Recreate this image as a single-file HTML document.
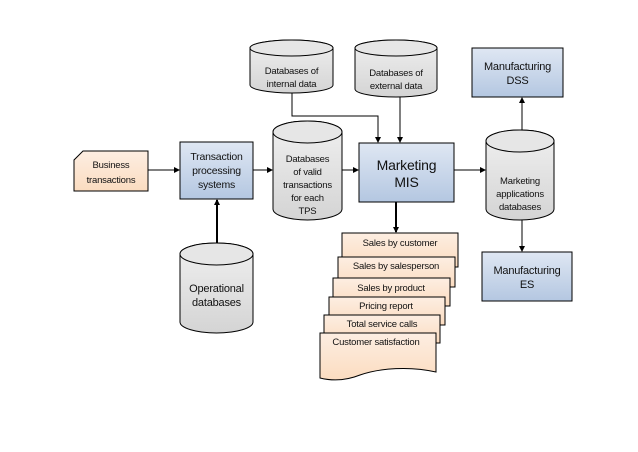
<!DOCTYPE html>
<html><head><meta charset="utf-8"><style>
html,body{margin:0;padding:0;background:#fff;}
svg{display:block;font-family:"Liberation Sans",sans-serif;}
text{font-size:9.5px;fill:#111;text-anchor:middle;letter-spacing:-0.2px}
</style></head><body>
<svg width="638" height="452" viewBox="0 0 638 452" xmlns="http://www.w3.org/2000/svg">
<defs>
<linearGradient id="bl" x1="0" y1="0" x2="0" y2="1"><stop offset="0" stop-color="#dfe7f3"/><stop offset="1" stop-color="#b4c7e1"/></linearGradient>
<linearGradient id="gr" x1="0" y1="0" x2="0" y2="1"><stop offset="0" stop-color="#f0f0f0"/><stop offset="1" stop-color="#d4d4d4"/></linearGradient>
<linearGradient id="pe" x1="0" y1="0" x2="0" y2="1"><stop offset="0" stop-color="#fdeee2"/><stop offset="1" stop-color="#fbdcc0"/></linearGradient>
<marker id="ar" markerWidth="6" markerHeight="6" refX="5" refY="3" orient="auto" markerUnits="userSpaceOnUse"><path d="M0,0 L6,3 L0,6 z" fill="#000"/></marker>
</defs>
<g stroke="#000" stroke-width="1">
<!-- Business transactions -->
<path d="M83,151 H148 V191 H74 V160 Z" fill="url(#pe)"/>
<!-- TPS -->
<rect x="180" y="142" width="73" height="57" fill="url(#bl)"/>
<!-- MIS -->
<rect x="359" y="143" width="95" height="59" fill="url(#bl)"/>
<!-- DSS -->
<rect x="472" y="48" width="91" height="49" fill="url(#bl)"/>
<!-- ES -->
<rect x="482" y="252" width="90" height="49" fill="url(#bl)"/>
<!-- cylinders -->
<path d="M250,48 A41.5,8 0 0 1 333,48 V85 A41.5,8 0 0 1 250,85 Z" fill="url(#gr)"/>
<ellipse cx="291.5" cy="48" rx="41.5" ry="8" fill="#e6e6e6"/>
<path d="M355,48 A41,8 0 0 1 437,48 V89 A41,8 0 0 1 355,89 Z" fill="url(#gr)"/>
<ellipse cx="396" cy="48" rx="41" ry="8" fill="#e6e6e6"/>
<path d="M273,132 A34.5,11 0 0 1 342,132 V209 A34.5,11 0 0 1 273,209 Z" fill="url(#gr)"/>
<ellipse cx="307.5" cy="132" rx="34.5" ry="11" fill="#e6e6e6"/>
<path d="M486,141 A34,11 0 0 1 554,141 V209 A34,11 0 0 1 486,209 Z" fill="url(#gr)"/>
<ellipse cx="520" cy="141" rx="34" ry="11" fill="#e6e6e6"/>
<path d="M180,254 A36.5,11 0 0 1 253,254 V322 A36.5,11 0 0 1 180,322 Z" fill="url(#gr)"/>
<ellipse cx="216.5" cy="254" rx="36.5" ry="11" fill="#e6e6e6"/>
<!-- report sheets -->
<rect x="342" y="233" width="116" height="34" fill="url(#pe)"/>
<rect x="338" y="257" width="117" height="30" fill="url(#pe)"/>
<rect x="333" y="278" width="117" height="28" fill="url(#pe)"/>
<rect x="329" y="297" width="116" height="28" fill="url(#pe)"/>
<rect x="324" y="315" width="116" height="28" fill="url(#pe)"/>
<path d="M320,333 H436 V372 C410,366 380,368 360,375 C345,381 332,381 320,378 Z" fill="url(#pe)"/>
<!-- connectors -->
<line x1="148" y1="170" x2="179" y2="170" marker-end="url(#ar)"/>
<line x1="253" y1="170" x2="272" y2="170" marker-end="url(#ar)"/>
<line x1="342" y1="170" x2="358" y2="170" marker-end="url(#ar)"/>
<line x1="454" y1="170" x2="485" y2="170" marker-end="url(#ar)"/>
<line x1="217" y1="243" x2="217" y2="200" stroke-width="2" marker-end="url(#ar)"/>
<polyline points="292,93 292,116 378,116 378,142" fill="none" marker-end="url(#ar)"/>
<line x1="400" y1="97" x2="400" y2="142" marker-end="url(#ar)"/>
<line x1="522" y1="130" x2="522" y2="98" marker-end="url(#ar)"/>
<line x1="522" y1="220" x2="522" y2="251" marker-end="url(#ar)"/>
<line x1="396" y1="202" x2="396" y2="232" stroke-width="2" marker-end="url(#ar)"/>
</g>
<text x="111" y="168">Business</text><text x="111" y="183">transactions</text>
<text x="216.5" y="160" font-size="10.5" style="font-size:10.5px">Transaction</text>
<text x="216.5" y="174" style="font-size:10.5px">processing</text>
<text x="216.5" y="188" style="font-size:10.5px">systems</text>
<text x="291.5" y="74">Databases of</text><text x="291.5" y="87">internal data</text>
<text x="396" y="76">Databases of</text><text x="396" y="89">external data</text>
<text x="307.5" y="162">Databases</text><text x="307.5" y="175">of valid</text><text x="307.5" y="188">transactions</text><text x="307.5" y="201">for each</text><text x="307.5" y="214">TPS</text>
<text x="406.5" y="170" style="font-size:14px">Marketing</text><text x="406.5" y="187" style="font-size:14px">MIS</text>
<text x="520" y="184">Marketing</text><text x="520" y="197">applications</text><text x="520" y="210">databases</text>
<text x="517.5" y="70" style="font-size:11px">Manufacturing</text><text x="517.5" y="84" style="font-size:11px">DSS</text>
<text x="527" y="274" style="font-size:11px">Manufacturing</text><text x="527" y="288" style="font-size:11px">ES</text>
<text x="216.5" y="292" style="font-size:11px">Operational</text><text x="216.5" y="306" style="font-size:11px">databases</text>
<text x="400" y="246">Sales by customer</text>
<text x="396" y="269">Sales by salesperson</text>
<text x="391" y="291">Sales by product</text>
<text x="386" y="309">Pricing report</text>
<text x="382" y="327">Total service calls</text>
<text x="376" y="345">Customer satisfaction</text>
</svg>
</body></html>
